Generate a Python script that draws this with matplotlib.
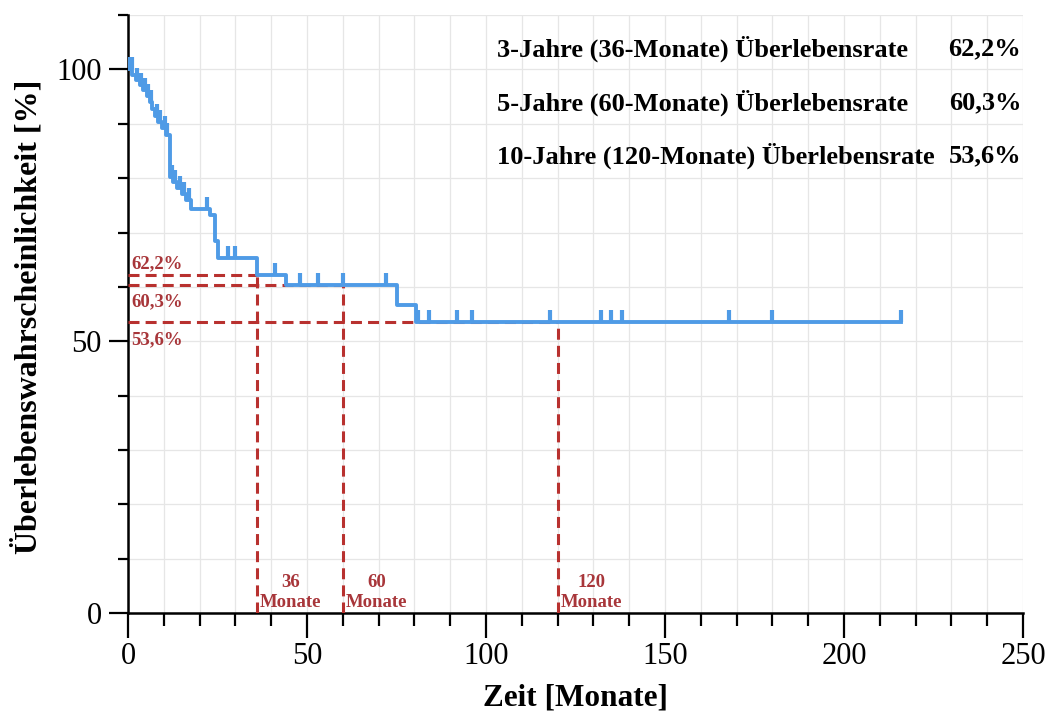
import numpy as np
import matplotlib
matplotlib.use('Agg')
import matplotlib.pyplot as plt
from matplotlib.ticker import MultipleLocator

plt.rcParams['font.family'] = ['Liberation Serif', 'DejaVu Serif']

# Kaplan-Meier steps (time in months, survival in %)
step_times = [0, 1.2, 2.2, 3.2, 4.2, 5.2, 6.0, 6.8, 7.6, 8.5, 9.5, 10.5, 11.8,
              12.6, 13.8, 15.0, 16.2, 17.5, 23.0, 24.3, 25.2, 36.0, 44.0, 75.0, 80.5]
step_surv = [100, 99.0, 98.1, 97.1, 96.2, 95.2, 94.0, 92.8, 91.5, 90.4, 89.3, 88.0, 80.3,
             79.3, 78.2, 77.0, 75.9, 74.4, 73.2, 68.4, 65.3, 62.2, 60.3, 56.6, 53.6]
end_time = 216

# censored observations
censor_times = [0.3, 1.0, 2.5, 3.6, 4.6, 5.6, 6.5, 8.0, 9.0, 10.2, 11.0, 12.2, 13.2,
                14.4, 15.6, 17.0, 22.0, 28.0, 30.0, 41.0, 48.0, 53.0, 60.0, 72.0,
                81.0, 84.0, 92.0, 96.0, 118.0, 132.0, 135.0, 138.0, 168.0, 180.0, 216.0]

# milestone survival rates
milestone_months = [36, 60, 120]
milestone_rates = [62.2, 60.3, 53.6]
milestone_pct_labels = ['62,2%', '60,3%', '53,6%']
summary_labels = ['3-Jahre (36-Monate) Überlebensrate',
                  '5-Jahre (60-Monate) Überlebensrate',
                  '10-Jahre (120-Monate) Überlebensrate']

blue = '#4f9be6'
red = '#b8312f'
red_text = '#a8363a'

fig = plt.figure(figsize=(10.53, 7.16), dpi=100)
ax = fig.add_axes([0.1216, 0.1439, 0.8499, 0.835])

# reference lines
for m, r in zip(milestone_months, milestone_rates):
    ax.plot([0, m], [r, r], color=red, lw=2.2, ls=(0, (3.6, 2.0)), zorder=3)
    ax.plot([m, m], [0, r], color=red, lw=2.2, ls=(0, (3.6, 2.0)), zorder=3)

# survival curve
t = np.array(step_times + [end_time])
s = np.array(step_surv + [step_surv[-1]])
ax.step(t, s, where='post', color=blue, lw=2.8, zorder=4)

ct = np.array(censor_times)
idx = np.searchsorted(np.array(step_times), ct, side='right') - 1
cs = np.array(step_surv)[idx]
ax.plot(ct, cs, ls='none', marker=2, markersize=8.5, mew=3.0, color=blue, zorder=4)

# percent labels on the left
pct_offsets = [2.0, -3.0, -3.4]
for r, lab, off in zip(milestone_rates, milestone_pct_labels, pct_offsets):
    ax.text(0.9, r + off, lab, color=red_text, fontsize=13.5, fontweight='bold',
            va='center', ha='left', zorder=5)

# month labels
for m in milestone_months:
    ax.text(m + 0.8, 0.4, f'{m}\nMonate', color=red_text, fontsize=13.5,
            fontweight='bold', ha='left', va='bottom', multialignment='center',
            linespacing=1.2, zorder=5)

# summary table top right
for i, (lab, pct) in enumerate(zip(summary_labels, milestone_pct_labels)):
    y = 0.943 - i * 0.0895
    ax.text(0.412, y, lab, transform=ax.transAxes, fontsize=19,
            fontweight='bold', ha='left', va='center')
    ax.text(0.998, y, pct, transform=ax.transAxes, fontsize=19,
            fontweight='bold', ha='right', va='center')

ax.set_xlim(0, 250)
ax.set_ylim(0, 110)
ax.xaxis.set_major_locator(MultipleLocator(50))
ax.xaxis.set_minor_locator(MultipleLocator(10))
ax.yaxis.set_major_locator(MultipleLocator(50))
ax.yaxis.set_minor_locator(MultipleLocator(10))
ax.grid(True, which='both', color='#e6e6e6', lw=0.9, zorder=0)
ax.set_axisbelow(True)

for side in ['top', 'right']:
    ax.spines[side].set_visible(False)
for side in ['left', 'bottom']:
    ax.spines[side].set_linewidth(1.8)

ax.tick_params(axis='x', which='major', length=18, width=1.6, labelsize=22, pad=3)
ax.tick_params(axis='x', which='minor', length=9, width=1.6)
ax.tick_params(axis='y', which='major', length=14, width=1.6, labelsize=22, pad=5)
ax.tick_params(axis='y', which='minor', length=7, width=1.6)

ax.set_xlabel('Zeit [Monate]', fontsize=22.5, fontweight='bold')
ax.xaxis.set_label_coords(0.5, -0.118)
ax.xaxis.label.set_va('top')
ax.set_ylabel('Überlebenswahrscheinlichkeit [%]', fontsize=23, fontweight='bold')
ax.yaxis.set_label_coords(-0.094, 0.495)

fig.savefig('out.png', dpi=100)
